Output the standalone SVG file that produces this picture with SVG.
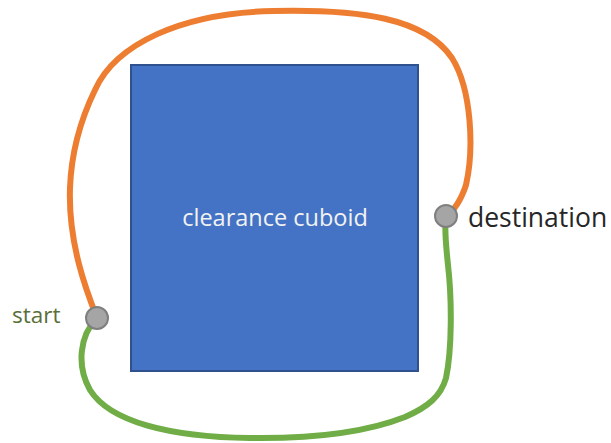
<svg xmlns="http://www.w3.org/2000/svg" width="611" height="443" viewBox="0 0 611 443">
  <style>
    .path { fill: none; stroke-width: 6; stroke-linecap: round; }
    .upper { stroke: #ED7D31; }
    .lower { stroke: #70AD47; }
    .point { fill: #A5A5A5; stroke: #7F7F7F; stroke-width: 2; }
    .label { font-family: "Open Sans", "Noto Sans", "Liberation Sans", sans-serif; }
  </style>
  <rect width="611" height="443" fill="#FFFFFF"/>

  <g id="cuboid">
    <rect x="131" y="65" width="287" height="306" fill="#4472C4" stroke="#2F528F" stroke-width="2"/>
    <text class="label" x="275" y="226" font-size="23.5" fill="#F2F2F2" text-anchor="middle">clearance cuboid</text>
  </g>

  <g id="connectors">
    <!-- upper route: over the top of the cuboid -->
    <path class="path upper" d="M97,318 C88,295 68,245 70,188 C71,160 78,125 95,90 C115,45 180,13 273,11 C360,9 425,18 452,58 C472,90 474,150 466,185 C461,200 455,210 446,216"/>
    <!-- lower route: under the bottom of the cuboid -->
    <path class="path lower" d="M97,318 C80,335 76,365 90,390 C110,422 170,437 250,438 C325,439 372,430 405,417 C428,407 441,396 446,378 C452,350 452,300 448,265 C446,245 444,230 446,216"/>
  </g>

  <g id="start">
    <circle class="point" cx="97" cy="318" r="11"/>
    <text class="label" x="12" y="323" font-size="22.5" fill="#5A6F3A">start</text>
  </g>

  <g id="destination">
    <circle class="point" cx="446" cy="216" r="11"/>
    <text class="label" x="468" y="227" font-size="26.5" fill="#262626">destination</text>
  </g>
</svg>
